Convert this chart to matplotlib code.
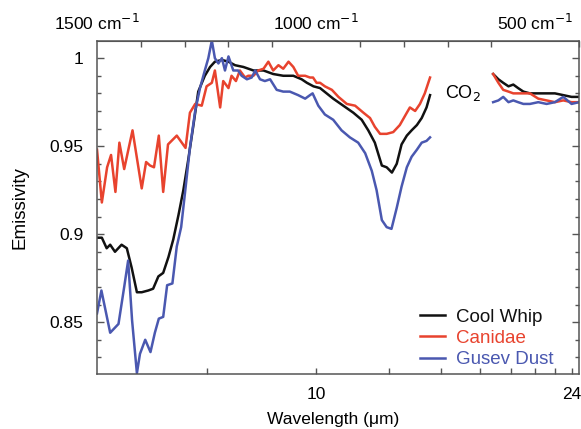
import numpy as np
import matplotlib.pyplot as plt
from matplotlib.ticker import FixedLocator, FixedFormatter, MultipleLocator

plt.rcParams['font.family'] = ['Liberation Sans', 'DejaVu Sans']

# spectra, wavenumber (cm-1) vs emissivity; CO2 band 740-596 cm-1 left out
whip_wn = [1500, 1489, 1478, 1470, 1459, 1444, 1432, 1421, 1409, 1398, 1383, 1372, 1360, 1349,
           1337, 1326, 1314, 1303, 1292, 1280, 1269, 1254, 1242, 1231, 1215, 1200, 1185, 1166,
           1143, 1120, 1098, 1075, 1052, 1033, 1021, 1006, 991, 976, 961, 938, 915, 896, 881,
           866, 850, 839, 827, 816, 805, 793, 782, 770, 759, 748, 740]
whip_em = [0.898, 0.898, 0.892, 0.894, 0.890, 0.894, 0.892, 0.881, 0.867, 0.867, 0.868, 0.869,
           0.876, 0.878, 0.887, 0.897, 0.911, 0.925, 0.942, 0.962, 0.981, 0.990, 0.995, 0.998,
           0.999, 0.998, 0.996, 0.995, 0.993, 0.993, 0.991, 0.990, 0.990, 0.988, 0.986, 0.984,
           0.983, 0.980, 0.977, 0.973, 0.969, 0.965, 0.959, 0.952, 0.939, 0.938, 0.935, 0.940,
           0.951, 0.956, 0.959, 0.962, 0.966, 0.972, 0.979]

canidae_wn = [1500, 1489, 1477, 1468, 1458, 1449, 1438, 1419, 1398, 1388, 1379, 1370, 1359, 1349,
              1338, 1318, 1298, 1288, 1276, 1261, 1250, 1238, 1231, 1219, 1212, 1200, 1193, 1183,
              1174, 1162, 1155, 1143, 1132, 1120, 1109, 1098, 1086, 1075, 1063, 1052, 1041, 1025,
              1014, 1007, 999, 991, 980, 964, 949, 930, 911, 892, 877, 866, 854, 839, 824, 809,
              793, 786, 774, 763, 752, 740]
canidae_em = [0.948, 0.918, 0.938, 0.945, 0.924, 0.952, 0.937, 0.959, 0.926, 0.941, 0.939, 0.938,
              0.956, 0.924, 0.951, 0.956, 0.949, 0.969, 0.974, 0.973, 0.984, 0.986, 0.993, 0.972,
              0.987, 0.983, 0.990, 0.987, 0.993, 0.989, 0.990, 0.990, 0.993, 0.994, 0.998, 0.993,
              0.996, 0.994, 0.998, 0.995, 0.990, 0.990, 0.989, 0.989, 0.986, 0.986, 0.984, 0.982,
              0.978, 0.974, 0.973, 0.969, 0.966, 0.961, 0.957, 0.957, 0.958, 0.962, 0.969, 0.972,
              0.970, 0.974, 0.980, 0.989]

gusev_wn = [1500, 1490, 1470, 1451, 1438, 1429, 1420, 1409, 1402, 1390, 1378, 1368, 1359, 1349,
            1340, 1328, 1318, 1308, 1299, 1288, 1276, 1265, 1254, 1246, 1238, 1231, 1223, 1215,
            1208, 1200, 1189, 1178, 1170, 1158, 1147, 1139, 1128, 1117, 1105, 1090, 1075, 1060,
            1041, 1025, 1014, 1008, 995, 980, 961, 942, 923, 904, 888, 873, 862, 850, 839, 828,
            816, 805, 793, 782, 770, 759, 748, 740]
gusev_em = [0.855, 0.868, 0.844, 0.849, 0.870, 0.885, 0.851, 0.821, 0.832, 0.840, 0.833, 0.844,
            0.852, 0.853, 0.871, 0.872, 0.893, 0.904, 0.924, 0.949, 0.970, 0.983, 0.993, 1.000,
            1.010, 1.000, 0.997, 1.000, 0.993, 1.001, 0.993, 0.993, 0.990, 0.988, 0.989, 0.993,
            0.988, 0.987, 0.988, 0.982, 0.981, 0.981, 0.979, 0.977, 0.979, 0.980, 0.973, 0.968,
            0.965, 0.959, 0.955, 0.952, 0.946, 0.936, 0.925, 0.908, 0.904, 0.903, 0.915, 0.927,
            0.938, 0.944, 0.948, 0.952, 0.953, 0.955]

# long-wavelength side of the CO2 band
far_wn = [596, 584, 573, 561, 550, 539, 527, 512, 493, 474, 455, 436, 417, 400]
whip_far = [0.991, 0.988, 0.986, 0.984, 0.985, 0.983, 0.981, 0.980, 0.980, 0.980, 0.980, 0.979,
            0.978, 0.978]
canidae_far = [0.991, 0.986, 0.982, 0.981, 0.980, 0.980, 0.980, 0.980, 0.977, 0.976, 0.975, 0.976,
               0.975, 0.975]
gusev_far = [0.975, 0.976, 0.978, 0.975, 0.976, 0.975, 0.974, 0.974, 0.975, 0.974, 0.975, 0.978,
             0.974, 0.975]

names = ['Cool Whip', 'Canidae', 'Gusev Dust']
colors = ['#111111', '#e8432e', '#4a58b0']

wl_ticks = [8, 10, 12, 14, 16, 18, 20, 22, 24]
wl_labels = ['', '10', '', '', '', '', '', '', '24']
top_ticks = [1500, 1000, 500]
top_labels = ['1500 cm$^{-1}$', '1000 cm$^{-1}$', '500 cm$^{-1}$']

fig = plt.figure(figsize=(5.81, 4.29), dpi=100)
ax = fig.add_axes([0.167, 0.128, 0.8296, 0.7762])

series = [(whip_wn, whip_em, whip_far), (canidae_wn, canidae_em, canidae_far),
          (gusev_wn, gusev_em, gusev_far)]
for (wn, em, far), name, c in zip(series, names, colors):
    ax.plot(wn, em, color=c, lw=1.8, label=name)
    ax.plot(far_wn, far, color=c, lw=1.8)

ax.set_xlim(1500, 400)
ax.set_ylim(0.8205, 1.0097)

spine_c = '#555555'
for s in ax.spines.values():
    s.set_color(spine_c)
    s.set_linewidth(1.1)

ax.yaxis.set_major_locator(FixedLocator([0.85, 0.9, 0.95, 1.0]))
ax.yaxis.set_major_formatter(FixedFormatter(['0.85', '0.9', '0.95', '1']))
ax.yaxis.set_minor_locator(MultipleLocator(0.01))

ax.xaxis.set_major_locator(FixedLocator([1e4 / w for w in wl_ticks]))
ax.xaxis.set_major_formatter(FixedFormatter(wl_labels))
ax.xaxis.set_minor_locator(FixedLocator([]))

ax.tick_params(axis='both', which='both', direction='in', color=spine_c, labelsize=12.5)
ax.tick_params(axis='y', which='both', right=True)
ax.tick_params(axis='y', which='major', length=5, width=1, pad=10)
ax.tick_params(axis='y', which='minor', length=3, width=1)
ax.tick_params(axis='x', which='major', length=4, width=1, pad=9)

top = ax.secondary_xaxis('top')
top.xaxis.set_major_locator(FixedLocator(top_ticks))
top.xaxis.set_major_formatter(FixedFormatter(top_labels))
top.xaxis.set_minor_locator(MultipleLocator(100))
top.tick_params(which='both', direction='in', color=spine_c, labelsize=12.5, width=1)
top.tick_params(which='major', length=0, pad=6)
top.tick_params(which='minor', length=4)
top.spines['top'].set_color(spine_c)

ax.text(665, 0.980, 'CO$_2$', fontsize=13, ha='center', va='center')

ax.set_ylabel('Emissivity', fontsize=13.5)
ax.yaxis.set_label_coords(-0.143, 0.5)
ax.set_xlabel('Wavelength (\u03bcm)', fontsize=12.5)
ax.xaxis.set_label_coords(0.49, -0.114)

ax.legend(loc='lower right', frameon=False, fontsize=13.5, labelcolor='linecolor',
          handlelength=1.35, handletextpad=0.55, labelspacing=0.22,
          bbox_to_anchor=(0.962, -0.005), borderaxespad=0)

fig.savefig('out.png', dpi=100)
